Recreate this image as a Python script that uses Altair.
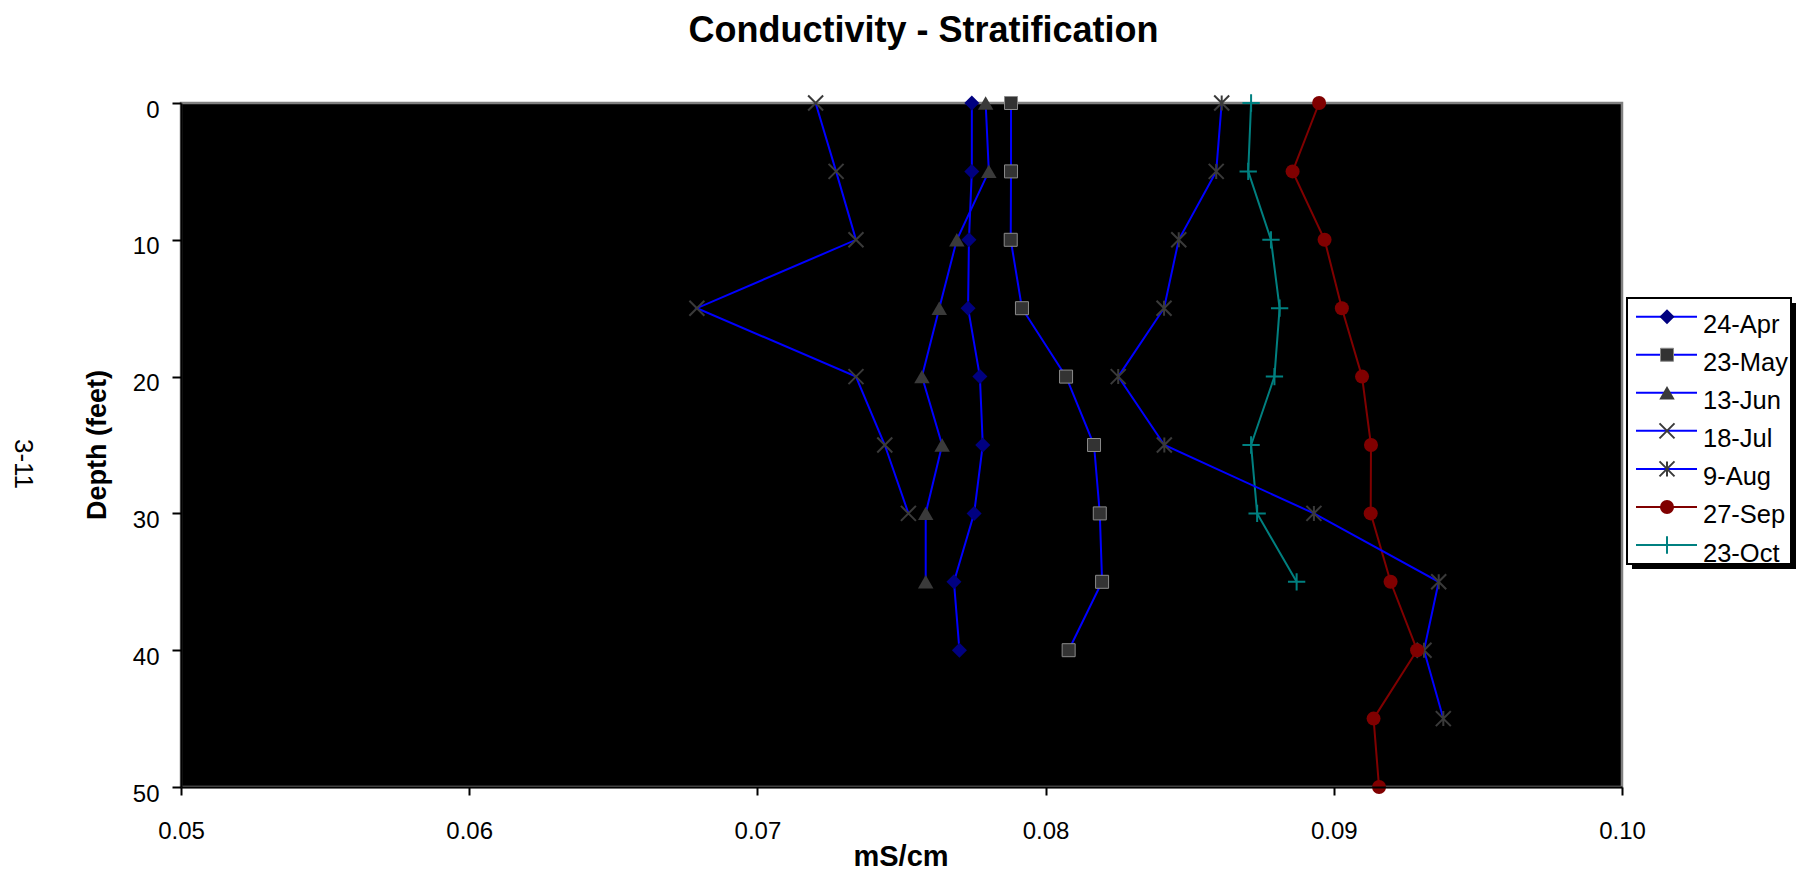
import altair as alt
import pandas as pd

# ---------------- data ----------------
series = ["24-Apr", "23-May", "13-Jun", "18-Jul", "9-Aug", "27-Sep", "23-Oct"]
depths = [0, 5, 10, 15, 20, 25, 30, 35, 40, 45, 50]

apr24 = [0.07744, 0.07744, 0.07734, 0.07731, 0.07772, 0.07782, 0.07752, 0.07682, 0.07701]
may23 = [0.07880, 0.07880, 0.07879, 0.07918, 0.08071, 0.08168, 0.08188, 0.08196, 0.08080]
jun13 = [0.07792, 0.07803, 0.07692, 0.07631, 0.07571, 0.07641, 0.07584, 0.07584]
jul18 = [0.07202, 0.07273, 0.07342, 0.06790, 0.07342, 0.07442, 0.07524]
aug9 = [0.08611, 0.08592, 0.08462, 0.08411, 0.08252, 0.08412, 0.08931, 0.09364, 0.09313, 0.09380]
sep27 = [0.08949, 0.08857, 0.08968, 0.09028, 0.09098, 0.09129, 0.09128, 0.09197, 0.09289, 0.09138, 0.09157]
oct23 = [0.08713, 0.08703, 0.08782, 0.08812, 0.08794, 0.08713, 0.08734, 0.08871]

values = [apr24, may23, jun13, jul18, aug9, sep27, oct23]

x_ticks = [0.05, 0.06, 0.07, 0.08, 0.09, 0.10]
y_ticks = [0, 10, 20, 30, 40, 50]

rows = []
for name, vals in zip(series, values):
    for d, v in zip(depths, vals):
        rows.append({"series": name, "depth": d, "cond": v})
df = pd.DataFrame(rows)
leg_df = pd.DataFrame({"series": series, "idx": list(range(len(series)))})
one = pd.DataFrame({"k": [0]})

# ---------------- styles ----------------
FONT = "Liberation Sans"
BLUE = "#0000FF"
X_PATH = "M-1,-1L1,1M-1,1L1,-1"
AST_PATH = "M-1,-1L1,1M-1,1L1,-1M0,-1L0,1"
PLUS_PATH = "M-1,0L1,0M0,-1L0,1"

line_colors = [BLUE, BLUE, BLUE, BLUE, BLUE, "#800000", "#008080"]
marker_styles = [
    dict(shape="diamond", size=225, filled=True, color="#000080"),
    dict(shape="square", size=169, filled=True, fill="#333333", stroke="#8a8a8a", strokeWidth=1),
    dict(shape="triangle-up", size=240, filled=True, color="#3a3a3a"),
    dict(shape=X_PATH, size=225, filled=False, color="#3a3a3a", strokeWidth=2),
    dict(shape=AST_PATH, size=225, filled=False, color="#3a3a3a", strokeWidth=2),
    dict(shape="circle", size=196, filled=True, color="#800000"),
    dict(shape=PLUS_PATH, size=300, filled=False, color="#008080", strokeWidth=2),
]

W, H = 1441, 684

x_enc = alt.X(
    "cond:Q",
    scale=alt.Scale(domain=[0.05, 0.10], nice=False, zero=False),
    axis=alt.Axis(
        values=x_ticks, format=".2f", grid=False, zindex=1,
        title="mS/cm", titleX=719.5, titleY=78, titleAlign="center",
        titleBaseline="alphabetic", titleFontSize=29, titleFontWeight="bold",
        titleFont=FONT, titleColor="black",
        labelFont=FONT, labelFontSize=24, labelColor="black", labelPadding=24,
        labelFlush=False, labelOverlap=False,
        tickSize=8, tickWidth=2, tickColor="black",
        domainColor="black", domainWidth=2,
    ),
)
y_enc = alt.Y(
    "depth:Q",
    scale=alt.Scale(domain=[0, 50], reverse=True, nice=False, zero=False),
    axis=alt.Axis(
        values=y_ticks, grid=False, zindex=1,
        title="Depth (feet)", titleX=-84, titleY=341.5, titleAngle=270,
        titleAlign="center", titleBaseline="middle", titleFontSize=27,
        titleFontWeight="bold", titleFont=FONT, titleColor="black",
        labelFont=FONT, labelFontSize=24, labelColor="black", labelPadding=13,
        labelOffset=7, labelFlush=False, labelOverlap=False,
        tickSize=9, tickWidth=2, tickColor="black",
        domainColor="black", domainWidth=2,
    ),
)

# plot-area background (black with grey frame)
plot_bg = alt.Chart(one).mark_rect(fill="black", stroke="#808080", strokeWidth=2.5).encode(
    x=alt.value(0), x2=alt.value(W), y=alt.value(0), y2=alt.value(H)
)

# lines (drawn first; blue ones last so they sit on top)
line_layers = []
for i in [6, 5, 4, 3, 2, 1, 0]:
    line_layers.append(
        alt.Chart(df)
        .transform_filter(alt.datum.series == series[i])
        .mark_line(color=line_colors[i], strokeWidth=2)
        .encode(x=x_enc, y=y_enc, order=alt.Order("depth:Q"))
    )

point_layers = []
for i, s in enumerate(series):
    point_layers.append(
        alt.Chart(df)
        .transform_filter(alt.datum.series == s)
        .mark_point(opacity=1, **marker_styles[i])
        .encode(x=x_enc, y=y_enc)
    )

main = alt.layer(*line_layers, *point_layers)

# ---------------- legend ----------------
leg_y = alt.Y("idx:Q", scale=alt.Scale(domain=[0, 6], range=[213.7, 442]), axis=None)

shadow = alt.Chart(one).mark_rect(color="black").encode(
    x=alt.value(1451), x2=alt.value(1615), y=alt.value(200), y2=alt.value(466)
)
box = alt.Chart(one).mark_rect(fill="white", stroke="black", strokeWidth=2).encode(
    x=alt.value(1446), x2=alt.value(1610), y=alt.value(195), y2=alt.value(461)
)
leg_lines = alt.Chart(leg_df).mark_rule(strokeWidth=2).encode(
    x=alt.value(1455), x2=alt.value(1516), y=leg_y,
    color=alt.Color("series:N", scale=alt.Scale(domain=series, range=line_colors), legend=None),
)
leg_points = []
for i, s in enumerate(series):
    leg_points.append(
        alt.Chart(leg_df)
        .transform_filter(alt.datum.series == s)
        .mark_point(opacity=1, **marker_styles[i])
        .encode(x=alt.value(1486), y=leg_y)
    )
leg_text = alt.Chart(leg_df).mark_text(
    align="left", baseline="alphabetic", dy=16.5, fontSize=25.5, font=FONT, color="black"
).encode(x=alt.value(1522), y=leg_y, text="series:N")

legend = alt.layer(leg_lines, *leg_points, leg_text)

# ---------------- texts ----------------
title = alt.Chart(one).mark_text(
    text="Conductivity - Stratification", fontSize=36, fontWeight="bold",
    font=FONT, align="center", baseline="alphabetic", color="black",
).encode(x=alt.value(742.5), y=alt.value(-61))

page_no = alt.Chart(one).mark_text(
    text="3-11", fontSize=26, font=FONT, angle=90, align="center",
    baseline="middle", color="black",
).encode(x=alt.value(-158), y=alt.value(361))

chart = (
    alt.layer(plot_bg, main, shadow, box, legend, title, page_no)
    .resolve_scale(y="independent")
    .properties(
        width=W, height=H,
        autosize=alt.AutoSizeParams(type="none"),
        padding={"left": 173, "top": 95, "right": 174, "bottom": 85},
    )
    .configure_view(strokeWidth=0)
    .configure(background="white")
)

chart.save("out.html", embed_options={"renderer": "svg", "actions": False})
